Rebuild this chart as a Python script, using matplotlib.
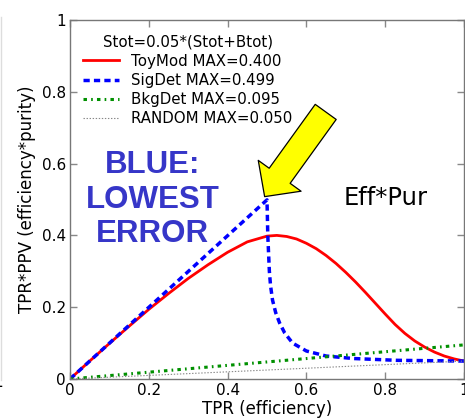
import matplotlib
matplotlib.use("Agg")
import matplotlib.pyplot as plt
from matplotlib.patches import ArrowStyle
from matplotlib.lines import Line2D

# ---- data ----
toy_x = [0.00, 0.05, 0.10, 0.15, 0.20, 0.25, 0.30, 0.35, 0.40, 0.45, 0.50, 0.525,
         0.55, 0.575, 0.60, 0.625, 0.65, 0.675, 0.70, 0.725, 0.75, 0.775, 0.80, 0.825,
         0.85, 0.875, 0.90, 0.925, 0.95, 0.975, 1.00]
toy_y = [0.000, 0.050, 0.099, 0.147, 0.194, 0.238, 0.280, 0.318, 0.353, 0.382, 0.398, 0.400,
         0.397, 0.390, 0.378, 0.363, 0.344, 0.322, 0.297, 0.270, 0.241, 0.211, 0.181, 0.152,
         0.127, 0.106, 0.089, 0.075, 0.064, 0.056, 0.050]

sig_x = [0.0, 0.5, 0.501, 0.502, 0.506, 0.509, 0.514, 0.522, 0.532, 0.545, 0.565, 0.60, 0.65, 0.72, 0.83, 1.0]
sig_y = [0.0, 0.499, 0.45, 0.40, 0.30, 0.26, 0.22, 0.185, 0.156, 0.128, 0.100, 0.078, 0.064, 0.057, 0.052, 0.050]

bkg_x = [0.0, 1.0]
bkg_y = [0.0, 0.095]

rnd_x = [0.0, 1.0]
rnd_y = [0.0, 0.050]

labels = ["ToyMod MAX=0.400", "SigDet MAX=0.499", "BkgDet MAX=0.095", "RANDOM MAX=0.050"]
legend_title = "Stot=0.05*(Stot+Btot)"
tick_vals = [0, 0.2, 0.4, 0.6, 0.8, 1]
tick_labels = ["0", "0.2", "0.4", "0.6", "0.8", "1"]

plt.rcParams['lines.scale_dashes'] = False

fig = plt.figure(figsize=(4.65, 4.18), dpi=100)
ax = fig.add_axes([70/465, 39/418, 394/465, 359/418])

ax.plot(toy_x, toy_y, color='#ff0000', lw=2.0, label=labels[0])
ax.plot(sig_x, sig_y, color='#0000ff', lw=2.5, dashes=(4.5, 3), label=labels[1])
ax.plot(bkg_x, bkg_y, color='#009000', lw=2.2, dashes=(2.5, 3, 1.2, 3), label=labels[2])
ax.plot(rnd_x, rnd_y, color='#888888', lw=0.8, dashes=(1, 1.2), label=labels[3])

ax.set_xlim(0, 1)
ax.set_ylim(0, 1)
ax.set_xticks(tick_vals)
ax.set_xticklabels(tick_labels)
ax.set_yticks(tick_vals)
ax.set_yticklabels(tick_labels)
ax.tick_params(direction='in', top=True, right=True, length=5, width=1,
               color='#888888', labelsize=11, pad=3)
for s in ax.spines.values():
    s.set_color('#777777')
    s.set_linewidth(1.0)

ax.set_xlabel("TPR (efficiency)", fontsize=12, labelpad=1)
ax.set_ylabel("TPR*PPV (efficiency*purity)", fontsize=12, labelpad=4)

leg = ax.legend(title=legend_title, loc='upper left', bbox_to_anchor=(0.033, 0.96),
                frameon=False, fontsize=10.8, title_fontsize=10.8, borderpad=0,
                borderaxespad=0, handlelength=2.4, handletextpad=0.8, labelspacing=0.28)

ax.text(0.21, 0.50, "BLUE:\nLOWEST\nERROR", color='#3636c8', fontsize=22.5,
        fontweight='bold', family='Liberation Sans', ha='center', va='center',
        linespacing=1.2)
ax.text(0.80, 0.505, "Eff*Pur", fontsize=17.5, ha='center', va='center', color='black')

ax.annotate("", xy=(0.494, 0.508), xytext=(0.649, 0.744),
            arrowprops=dict(arrowstyle=ArrowStyle.Simple(head_length=18.5, head_width=38,
                                                         tail_width=18.6),
                            fc='#ffff00', ec='black', lw=0.9, shrinkA=0, shrinkB=0,
                            mutation_scale=1))

# fragments of the neighbouring panel at the left edge
fig.add_artist(Line2D([0.002, 0.002], [0.09, 0.96], color='#dddddd', lw=1))
fig.text(-0.004, 0.086, "1", ha='center', va='center', fontsize=11)

fig.savefig("out.png", dpi=100)
